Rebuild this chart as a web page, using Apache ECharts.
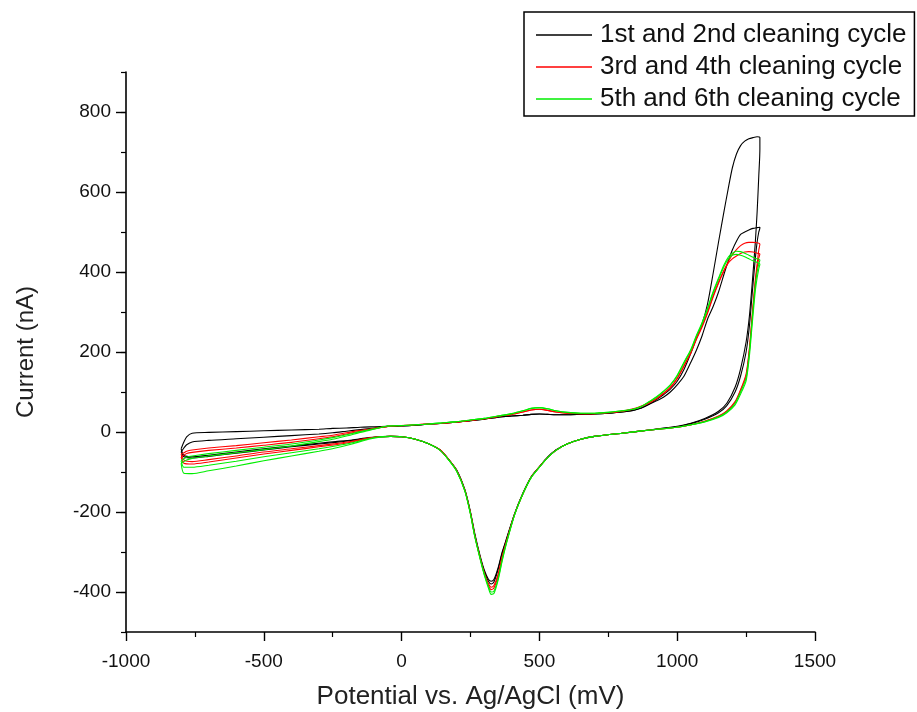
<!DOCTYPE html>
<html>
<head>
<meta charset="utf-8">
<script src="https://cdn.jsdelivr.net/npm/echarts@6/dist/echarts.min.js"></script>
<style>
html,body{margin:0;padding:0;background:#fff;}
#chart{width:917px;height:712px;}
</style>
</head>
<body>
<div id="chart"></div>
<script>
// ---- Data (potential in mV, current in nA) ----
const seriesNames = ['1st and 2nd cleaning cycle', '3rd and 4th cleaning cycle', '5th and 6th cleaning cycle'];
const xTicks = [-1000, -500, 0, 500, 1000, 1500];
const yTicks = [-400, -200, 0, 200, 400, 600, 800];

// potentials of the sweep towards positive values (lower branch)
const vLower = [-800, -790, -760, -700, -600, -500, -400, -300, -240, -180,
  -120, -80, -40, 0, 50, 100, 140, 170, 200, 230,
  250, 265, 285, 300, 315, 325, 335, 350, 365, 380,
  410, 440, 470, 500, 530, 560, 600, 650, 700, 800,
  900, 1000, 1050, 1100, 1150, 1180, 1210, 1230, 1250, 1262,
  1272, 1283, 1290, 1296, 1300];

// potentials of the return sweep (upper branch)
const vUpper = [1300, 1290, 1275, 1260, 1245, 1230, 1215, 1200, 1185, 1170,
  1150, 1130, 1110, 1090, 1070, 1050, 1025, 1000, 975, 950,
  925, 900, 870, 840, 800, 750, 700, 650, 600, 560,
  530, 500, 470, 440, 400, 350, 300, 250, 200, 150,
  100, 50, 0, -50, -100, -150, -200, -250, -300, -400,
  -500, -600, -700, -760, -780, -790, -800];

// cycle 1 (black)
const c1Lower = [-42, -58, -62, -58, -50, -42, -35, -28, -24, -20,
  -14, -12, -11, -12, -18, -30, -45, -68, -95, -145,
  -200, -252, -310, -345, -368, -373, -369, -340, -300, -268,
  -204, -153, -112, -87, -63, -45, -30, -18, -11, -3,
  5, 14, 22, 34, 52, 72, 112, 158, 225, 290,
  370, 470, 550, 640, 707];
const c1Upper = [736, 738, 736, 733, 727, 716, 695, 660, 608, 552,
  475, 395, 320, 270, 235, 198, 157, 127, 107, 93,
  81, 70, 60, 54, 50, 47, 45, 44, 43, 43,
  44, 45, 44, 42, 40, 37, 32, 28, 25, 22,
  20, 17, 15, 14, 13, 12, 10, 9, 7, 5,
  3, 1, -1, -3, -12, -25, -42];
// cycle 2 (black)
const c2Lower = [-50, -62, -65, -61, -53, -45, -37, -30, -26, -21,
  -15, -12, -11, -12, -18, -30, -45, -68, -96, -146,
  -202, -255, -313, -349, -373, -380, -375, -344, -303, -270,
  -205, -154, -113, -87, -63, -45, -30, -18, -11, -3,
  5, 13, 21, 32, 48, 66, 100, 140, 200, 265,
  345, 430, 475, 500, 510];
const c2Upper = [512, 511, 509, 505, 500, 494, 477, 455, 427, 395,
  350, 313, 282, 240, 205, 175, 140, 118, 100, 87,
  78, 70, 60, 54, 50, 47, 45, 44, 43, 43,
  44, 45, 44, 42, 40, 37, 32, 28, 25, 22,
  20, 17, 15, 14, 10, 6, 2, -2, -5, -9,
  -13, -17, -21, -25, -32, -40, -50];
// cycle 3 (red)
const c3Lower = [-55, -70, -74, -69, -60, -50, -42, -34, -29, -23,
  -15, -12, -11, -12, -18, -30, -45, -68, -97, -147,
  -204, -258, -316, -354, -383, -394, -390, -360, -314, -276,
  -206, -155, -113, -87, -64, -46, -30, -18, -11, -3,
  5, 12, 18, 27, 40, 53, 76, 106, 145, 210,
  292, 378, 420, 455, 470];
const c3Upper = [470, 473, 474, 474, 472, 466, 456, 443, 425, 405,
  375, 340, 300, 265, 235, 200, 167, 135, 112, 97,
  84, 74, 65, 58, 52, 48, 46, 46, 47, 50,
  54, 57, 55, 50, 44, 39, 33, 29, 25, 22,
  20, 18, 16, 14, 9, 4, -2, -8, -12, -20,
  -27, -34, -40, -45, -48, -52, -55];
// cycle 4 (red)
const c4Lower = [-62, -78, -80, -75, -65, -55, -46, -37, -32, -25,
  -16, -12, -11, -12, -18, -30, -45, -68, -97, -147,
  -203, -257, -314, -352, -379, -388, -384, -356, -311, -274,
  -206, -155, -113, -87, -64, -46, -30, -18, -11, -3,
  5, 12, 18, 27, 39, 52, 74, 104, 140, 205,
  285, 370, 410, 435, 445];
const c4Upper = [445, 447, 450, 451, 450, 446, 440, 433, 422, 403,
  372, 337, 297, 262, 232, 198, 165, 133, 110, 96,
  83, 73, 64, 57, 52, 48, 46, 46, 47, 50,
  54, 57, 55, 50, 44, 39, 33, 29, 25, 22,
  20, 18, 16, 14, 8, 2, -5, -12, -17, -26,
  -33, -40, -46, -51, -54, -58, -62];
// cycle 5 (green)
const c5Lower = [-72, -88, -88, -83, -73, -62, -52, -42, -35, -27,
  -17, -12, -11, -12, -18, -30, -46, -69, -98, -149,
  -206, -260, -318, -358, -390, -406, -404, -371, -322, -280,
  -207, -155, -114, -88, -64, -46, -30, -18, -11, -3,
  5, 12, 18, 26, 38, 50, 72, 100, 135, 200,
  280, 364, 400, 420, 430];
const c5Upper = [430, 433, 437, 442, 447, 451, 452, 447, 437, 418,
  385, 350, 310, 273, 242, 207, 175, 142, 118, 102,
  88, 77, 64, 57, 53, 49, 47, 47, 49, 53,
  58, 61, 59, 53, 46, 40, 34, 30, 26, 23,
  20, 18, 16, 15, 8, 1, -7, -14, -20, -30,
  -38, -46, -54, -60, -63, -67, -72];
// cycle 6 (green)
const c6Lower = [-78, -103, -104, -97, -85, -72, -60, -48, -40, -30,
  -18, -13, -11, -12, -18, -30, -46, -69, -98, -148,
  -205, -259, -316, -355, -386, -400, -398, -367, -320, -278,
  -207, -155, -114, -88, -64, -46, -30, -18, -11, -3,
  5, 12, 18, 25, 36, 48, 68, 95, 128, 190,
  268, 350, 385, 408, 420];
const c6Upper = [420, 424, 428, 433, 438, 442, 444, 442, 432, 414,
  382, 347, 307, 270, 240, 205, 173, 140, 117, 101,
  87, 76, 64, 57, 53, 49, 47, 47, 49, 53,
  58, 61, 59, 53, 46, 40, 34, 30, 26, 23,
  20, 18, 16, 15, 7, -1, -10, -18, -24, -35,
  -44, -52, -60, -66, -70, -74, -78];

const colors = ['#000000', '#ff0000', '#00ee00'];

// ---- Build ----
function loop(lower, upper) {
  const pts = [];
  vLower.forEach((v, i) => pts.push([v, lower[i]]));
  vUpper.forEach((v, i) => pts.push([v, upper[i]]));
  return pts;
}
const cycles = [
  [c1Lower, c1Upper, 0], [c2Lower, c2Upper, 0],
  [c3Lower, c3Upper, 1], [c4Lower, c4Upper, 1],
  [c5Lower, c5Upper, 2], [c6Lower, c6Upper, 2]
];

const FONT = '"Liberation Sans", Arial, Helvetica, sans-serif';
const chart = echarts.init(document.getElementById('chart'), null, {renderer: 'canvas'});

const series = cycles.map(([lo, up, g]) => ({
  name: seriesNames[g],
  type: 'line',
  xAxisIndex: 0,
  yAxisIndex: 0,
  data: loop(lo, up),
  showSymbol: false,
  symbol: 'none',
  smooth: 0.25,
  lineStyle: {color: colors[g], width: 1.1},
  itemStyle: {color: colors[g]},
  emphasis: {disabled: true},
  z: 2
}));

chart.setOption({
  animation: false,
  backgroundColor: '#ffffff',
  textStyle: {fontFamily: FONT},
  grid: [
    {left: 126, right: 102, top: 72, bottom: 80, containLabel: false, outerBoundsMode: 'none'},
    {left: 126, right: 102, top: 112, bottom: 120, containLabel: false, outerBoundsMode: 'none'}
  ],
  legend: {
    orient: 'vertical',
    left: 524,
    top: 12,
    data: seriesNames,
    icon: 'rect',
    itemWidth: 56,
    itemHeight: 1.4,
    itemGap: 6,
    padding: [10, 8, 4, 12],
    borderColor: '#000',
    borderWidth: 1.5,
    borderRadius: 0,
    backgroundColor: '#fff',
    textStyle: {fontFamily: FONT, fontSize: 26, color: '#111', lineHeight: 26, padding: [0, 0, 0, 3]},
    selectedMode: false
  },
  xAxis: [
    {
      type: 'value', gridIndex: 0,
      min: -1000, max: 1500, interval: 500,
      axisLine: {show: true, onZero: false, lineStyle: {color: '#000', width: 1.6}},
      axisTick: {show: true, length: 9, lineStyle: {color: '#000', width: 1.4}},
      minorTick: {show: true, splitNumber: 2, length: 5, lineStyle: {color: '#000', width: 1.2}},
      splitLine: {show: false},
      axisLabel: {
        fontFamily: FONT, fontSize: 19, color: '#111', margin: 20,
        customValues: xTicks,
        formatter: v => String(v)
      },
      name: 'Potential vs. Ag/AgCl (mV)',
      nameLocation: 'middle',
      nameGap: 52,
      nameTextStyle: {fontFamily: FONT, fontSize: 26, color: '#222'}
    },
    {
      type: 'value', gridIndex: 1, min: -1000, max: 1500, interval: 500,
      show: false
    }
  ],
  yAxis: [
    {
      type: 'value', gridIndex: 0,
      min: -500, max: 900, interval: 100,
      axisLine: {show: true, onZero: false, lineStyle: {color: '#000', width: 1.6}},
      axisTick: {show: true, length: 5, lineStyle: {color: '#000', width: 1.2}},
      splitLine: {show: false},
      axisLabel: {show: false},
      name: 'Current (nA)',
      nameLocation: 'middle',
      nameGap: 88,
      nameRotate: 90,
      nameTextStyle: {fontFamily: FONT, fontSize: 24, color: '#222'}
    },
    {
      type: 'value', gridIndex: 1,
      min: -400, max: 800, interval: 200,
      axisLine: {show: false, onZero: false},
      axisTick: {show: true, length: 10, lineStyle: {color: '#000', width: 1.4}},
      splitLine: {show: false},
      axisLabel: {fontFamily: FONT, fontSize: 19, color: '#111', margin: 15,
        customValues: yTicks, formatter: v => String(v)}
    }
  ],
  series: series
});
</script>
</body>
</html>
